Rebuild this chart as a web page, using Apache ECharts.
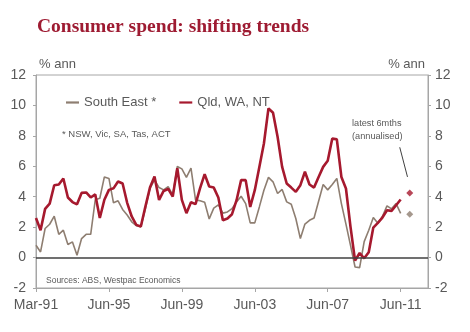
<!DOCTYPE html>
<html>
<head>
<meta charset="utf-8">
<script src="https://cdn.jsdelivr.net/npm/echarts@6/dist/echarts.min.js"></script>
<style>
  html, body { margin: 0; padding: 0; background: #ffffff; }
  #chart { width: 470px; height: 332px; }
</style>
</head>
<body>
<div id="chart"></div>
<script>
// Quarterly annual growth in consumer spending (% ann), one value per quarter
const tickLabels = ['Mar-91', 'Jun-95', 'Jun-99', 'Jun-03', 'Jun-07', 'Jun-11'];
const quartersPerTick = 16;

const southEast = [
  0.81, 0.37, 1.91, 2.19, 2.72, 1.53, 1.80, 0.86, 1.03, 0.15,
  1.25, 1.53, 1.53, 3.80, 3.90, 5.30, 5.20, 3.60, 3.73, 3.16,
  2.80, 2.35, 2.10, 2.02, 3.20, 4.55, 5.10, 4.60, 4.45, 4.67,
  4.10, 5.99, 5.83, 5.27, 5.88, 3.79, 3.73, 3.64, 2.54, 3.25,
  3.46, 2.92, 3.00, 3.22, 3.66, 4.03, 3.55, 2.28, 2.28, 3.33,
  4.43, 5.27, 4.98, 4.21, 4.48, 3.66, 3.51, 2.57, 1.25, 2.20,
  2.45, 2.60, 3.70, 4.80, 4.45, 4.80, 5.20, 3.55, 2.20, 0.80,
  -0.62, -0.66, 1.05, 1.80, 2.63, 2.25, 2.70, 3.40, 3.20, 3.55,
  2.90
];

const qldWaNt = [
  2.60, 1.80, 3.20, 3.55, 4.75, 4.80, 5.20, 3.95, 3.65, 3.50,
  4.25, 4.28, 3.95, 4.15, 2.60, 3.80, 4.45, 4.55, 5.00, 4.87,
  3.60, 2.70, 2.15, 2.04, 3.36, 4.60, 5.33, 3.79, 4.38, 4.51,
  4.01, 5.88, 3.79, 2.92, 3.64, 3.51, 4.56, 5.48, 4.67, 4.60,
  3.95, 2.45, 2.57, 2.85, 3.77, 5.09, 5.09, 3.33, 4.43, 5.96,
  7.50, 9.81, 9.52, 7.94, 5.96, 4.87, 4.60, 4.32, 4.76, 5.64,
  4.80, 4.60, 5.30, 5.96, 6.36, 7.83, 7.77, 5.30, 4.54, 2.02,
  -0.20, 0.30, -0.05, 0.35, 1.97, 2.28, 2.63, 3.11, 3.07, 3.44,
  3.82
];

// Latest six months, annualised
const latestPosition = 82;
const latestSouthEast = 2.85;
const latestQldWaNt = 4.25;

// Pointer from the note to the latest markers (axis units)
const pointerFrom = [79.8, 7.25];
const pointerTo = [81.5, 5.3];

const RED = '#a6192e';
const TAUPE = '#8e7e71';
const AXIS = '#a6a6a6';
const TEXT = '#595959';
const FONT = '"Liberation Sans", Arial, sans-serif';

const toPairs = arr => arr.map((v, i) => [i, v]);

const chart = echarts.init(document.getElementById('chart'), null, { renderer: 'canvas' });

const yAxisCommon = {
  type: 'value',
  min: -2,
  max: 12,
  interval: 2,
  splitLine: { show: false },
  axisLine: { show: true, lineStyle: { color: AXIS, width: 1 } },
  axisTick: { show: true, length: 3, lineStyle: { color: AXIS } },
  name: '% ann',
  nameLocation: 'end',
  nameGap: 4,
  nameTextStyle: { fontSize: 13, color: TEXT, fontFamily: FONT, verticalAlign: 'bottom' }
};

chart.setOption({
  animation: false,
  backgroundColor: '#ffffff',
  textStyle: { fontFamily: FONT },
  title: {
    text: 'Consumer spend: shifting trends',
    left: 37,
    top: 17,
    padding: 0,
    textStyle: {
      fontFamily: '"Liberation Serif", "Times New Roman", serif',
      fontWeight: 'bold',
      fontSize: 19.5,
      color: '#9e1b32'
    }
  },
  legend: {
    left: 66,
    top: 96,
    padding: 0,
    icon: 'rect',
    itemWidth: 13,
    itemHeight: 2.2,
    itemGap: 23,
    textStyle: { fontSize: 13, color: TEXT, fontFamily: FONT },
    data: ['South East *', 'Qld, WA, NT']
  },
  grid: {
    left: 36,
    right: 42,
    top: 75,
    bottom: 44,
    show: true,
    borderColor: AXIS,
    borderWidth: 1
  },
  xAxis: {
    type: 'value',
    min: 0,
    max: 86,
    interval: quartersPerTick,
    splitLine: { show: false },
    axisLine: { show: true, onZero: false, lineStyle: { color: AXIS } },
    axisTick: {
      show: true,
      length: 4,
      lineStyle: { color: AXIS },
      customValues: tickLabels.map((_, i) => i * quartersPerTick)
    },
    axisLabel: {
      fontSize: 14,
      color: TEXT,
      margin: 10,
      customValues: tickLabels.map((_, i) => i * quartersPerTick),
      formatter: v => tickLabels[Math.round(v / quartersPerTick)] || ''
    }
  },
  yAxis: [
    Object.assign({}, yAxisCommon, {
      position: 'left',
      axisLabel: { fontSize: 14, color: TEXT, margin: 10 },
      nameTextStyle: Object.assign({}, yAxisCommon.nameTextStyle, { align: 'left', padding: [0, 0, 0, 3] })
    }),
    Object.assign({}, yAxisCommon, {
      position: 'right',
      axisLabel: { fontSize: 14, color: TEXT, margin: 7 },
      nameTextStyle: Object.assign({}, yAxisCommon.nameTextStyle, { align: 'right', padding: [0, 3, 0, 0] })
    })
  ],
  series: [
    {
      name: 'South East *',
      type: 'line',
      data: toPairs(southEast),
      symbol: 'none',
      lineStyle: { color: TAUPE, width: 1.6 },
      itemStyle: { color: TAUPE },
      z: 2,
      markLine: {
        silent: true,
        symbol: 'none',
        label: { show: false },
        lineStyle: { color: '#404040', width: 1.5, type: 'solid' },
        data: [{ yAxis: 0 }]
      }
    },
    {
      name: 'Qld, WA, NT',
      type: 'line',
      data: toPairs(qldWaNt),
      symbol: 'none',
      lineStyle: { color: RED, width: 2.6 },
      itemStyle: { color: RED },
      z: 3
    },
    {
      name: 'latest South East',
      type: 'scatter',
      data: [[latestPosition, latestSouthEast]],
      symbol: 'diamond',
      symbolSize: 7,
      itemStyle: { color: TAUPE },
      z: 4
    },
    {
      name: 'latest Qld, WA, NT',
      type: 'scatter',
      data: [[latestPosition, latestQldWaNt]],
      symbol: 'diamond',
      symbolSize: 7,
      itemStyle: { color: RED },
      z: 4,
      markLine: {
        silent: true,
        symbol: 'none',
        label: { show: false },
        lineStyle: { color: '#404040', width: 1, type: 'solid' },
        data: [[{ coord: pointerFrom }, { coord: pointerTo }]]
      }
    }
  ],
  graphic: [
    {
      type: 'text',
      left: 62,
      top: 129,
      style: { text: '* NSW, Vic, SA, Tas, ACT', fontSize: 9.5, fill: TEXT, fontFamily: FONT }
    },
    {
      type: 'text',
      left: 46,
      top: 276,
      style: { text: 'Sources: ABS, Westpac Economics', fontSize: 8.5, fill: TEXT, fontFamily: FONT }
    },
    {
      type: 'text',
      left: 352,
      top: 117,
      style: {
        text: 'latest 6mths\n(annualised)',
        fontSize: 9.2,
        lineHeight: 12.7,
        align: 'center',
        fill: TEXT,
        fontFamily: FONT
      }
    }
  ]
});
</script>
</body>
</html>
